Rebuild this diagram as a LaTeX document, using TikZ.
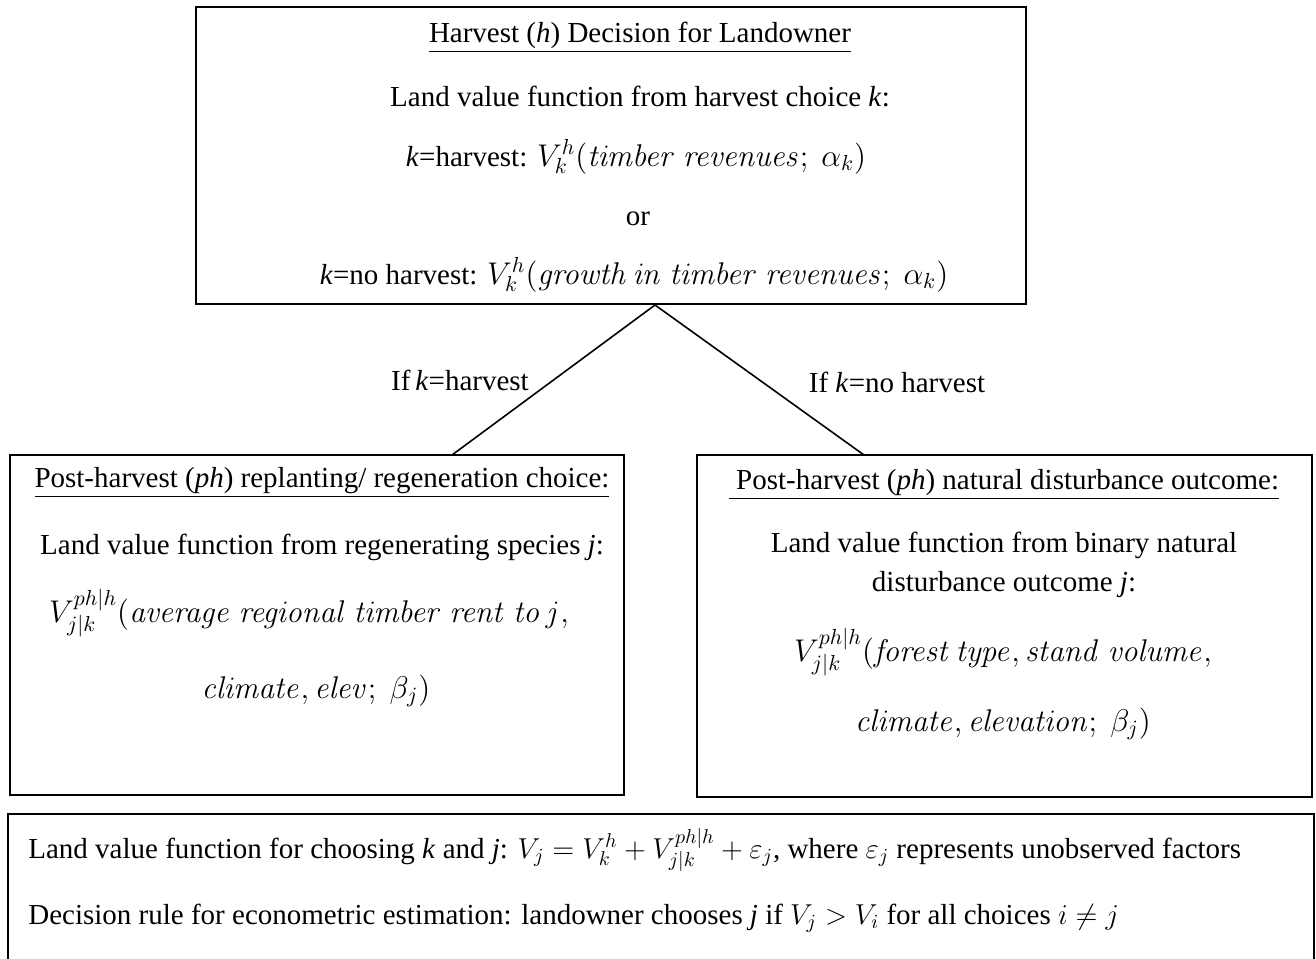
\documentclass[tikz,border=0pt]{standalone}
\usepackage{graphicx}
\usepackage[no-math]{fontspec}
\setmainfont{Liberation Serif}
\newcommand{\mx}[1]{\scalebox{1.09}{$#1$}}
\begin{document}
\begin{tikzpicture}[x=0.5pt,y=-0.5pt,
  box/.style={draw=black, line width=1pt, rectangle, inner sep=0pt},
  txt/.style={font=\fontsize{14.5}{17}\selectfont, inner sep=0pt, anchor=base},
  lbl/.style={font=\fontsize{14.5}{17}\selectfont, inner sep=0pt},
  conn/.style={draw=black, line width=0.8pt}]
\useasboundingbox (0,0) rectangle (1316,958);
% boxes
\node[box, minimum width=415pt, minimum height=148.5pt] (top) at (611,155.5) {};
\node[box, minimum width=307pt, minimum height=170pt] (left) at (317,625) {};
\node[box, minimum width=307.5pt, minimum height=171pt] (right) at (1004.5,626) {};
\node[box, minimum width=653pt, minimum height=80pt] (bottom) at (661,894) {};
% top texts
\node[txt] (t1) at (640,42) {\underline{Harvest (\textit{h}) Decision for Landowner}};
\node[txt] (t2) at (640,106) {Land value function from harvest choice \textit{k}:};
\node[txt] (t3) at (636,166) {\textit{k}=harvest: \mx{V_k^h(\mathit{timber\ revenues};\ \alpha_k)}};
\node[txt] (t4) at (638,225) {or};
\node[txt] (t5) at (634,284) {\textit{k}=no harvest: \mx{V_k^h(\mathit{growth\,in\ timber\ revenues};\ \alpha_k)}};
% connectors
\coordinate (apex) at (655,305);
\coordinate (lend) at (452,455);
\coordinate (rend) at (864,455);
\draw[conn] (apex) -- (lend);
\draw[conn] (apex) -- (rend);
\node[lbl] (lh) at (460,380) {If\,\textit{k}=harvest};
\node[lbl] (rh) at (897,382) {If \textit{k}=no harvest};
% left texts
\node[txt] (l1) at (322,487) {\underline{Post-harvest (\textit{ph}) replanting/ regeneration choice:}};
\node[txt] (l2) at (322,554) {Land value function from regenerating species \textit{j}:};
\node[txt] (l3) at (309,622) {\mx{V_{j|k}^{ph|h}(\mathit{average\ regional\ timber\ rent\ to\,j},}};
\node[txt] (l4) at (316,698) {\mx{\mathit{climate,elev};\ \beta_j)}};
% right texts
\node[txt] (r1) at (1004,489) {\underline{\ Post-harvest (\textit{ph}) natural disturbance outcome:}};
\node[txt] (r2) at (1004,552) {Land value function from binary natural};
\node[txt] (r3) at (1004,591) {disturbance outcome \textit{j}:};
\node[txt] (r4) at (1003,661) {\mx{V_{j|k}^{ph|h}(\mathit{forest\,type,stand\ volume},}};
\node[txt] (r5) at (1003,731) {\mx{\mathit{climate,elevation};\ \beta_j)}};
% bottom texts
\node[txt, anchor=base west] (b1) at (28,858) {Land value function for choosing \textit{k} and \textit{j}: $V_j = V_k^h + V_{j|k}^{ph|h} + \varepsilon_j$, where $\varepsilon_j$ represents unobserved factors};
\node[txt, anchor=base west] (b2) at (28,924) {Decision rule for econometric estimation: landowner chooses \textit{j} if $V_j > V_i$ for all choices $i \neq j$};
\end{tikzpicture}
\end{document}
